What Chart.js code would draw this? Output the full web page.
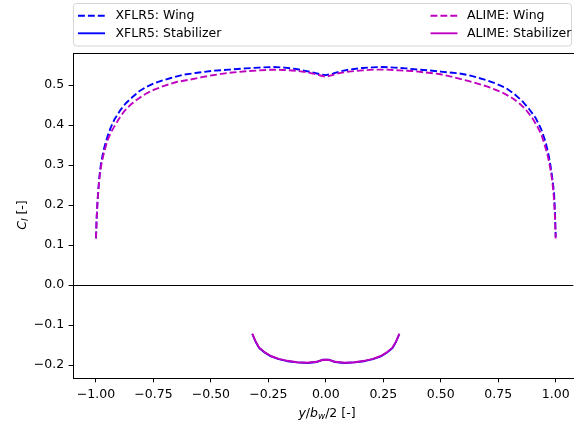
<!DOCTYPE html>
<html>
<head>
<meta charset="utf-8">
<script src="https://cdn.jsdelivr.net/npm/chart.js@4.4.1/dist/chart.umd.min.js"></script>
<style>
  html, body { margin: 0; padding: 0; background: #ffffff; overflow: hidden; }
  canvas { display: block; }
</style>
</head>
<body>
<canvas id="cl" width="574" height="423"></canvas>
<script>
// Spanwise lift coefficient distributions: wing and horizontal stabilizer
const xflrWingX = [-1.000,-0.997,-0.993,-0.986,-0.978,-0.966,-0.950,-0.935,-0.920,-0.895,-0.870,-0.840,-0.812,-0.780,-0.747,-0.710,-0.674,-0.623,-0.560,-0.493,-0.420,-0.348,-0.290,-0.232,-0.180,-0.130,-0.090,-0.058,-0.030,0.000,0.030,0.058,0.100,0.159,0.200,0.246,0.300,0.348,0.400,0.449,0.500,0.551,0.580,0.623,0.660,0.696,0.740,0.783,0.820,0.855,0.885,0.913,0.937,0.957,0.970,0.978,0.986,0.993,0.997,1.000];
const xflrWingY = [0.117,0.170,0.214,0.268,0.305,0.340,0.372,0.395,0.414,0.437,0.455,0.471,0.485,0.496,0.505,0.512,0.518,0.526,0.531,0.536,0.539,0.542,0.544,0.5455,0.544,0.5405,0.536,0.532,0.528,0.525,0.529,0.534,0.539,0.543,0.5445,0.5455,0.544,0.542,0.539,0.537,0.534,0.531,0.5295,0.525,0.519,0.513,0.504,0.493,0.478,0.460,0.440,0.418,0.390,0.356,0.323,0.297,0.265,0.230,0.185,0.120];

const alimeWingX = [-1.000,-0.997,-0.993,-0.986,-0.978,-0.966,-0.950,-0.935,-0.920,-0.900,-0.877,-0.850,-0.819,-0.785,-0.747,-0.700,-0.650,-0.600,-0.540,-0.493,-0.420,-0.348,-0.290,-0.232,-0.180,-0.130,-0.080,-0.040,-0.015,0.000,0.020,0.058,0.100,0.159,0.210,0.261,0.320,0.377,0.430,0.493,0.550,0.594,0.623,0.660,0.700,0.724,0.770,0.811,0.845,0.870,0.897,0.920,0.937,0.949,0.963,0.975,0.985,0.992,0.997,1.000];
const alimeWingY = [0.117,0.168,0.212,0.262,0.298,0.330,0.362,0.382,0.397,0.416,0.435,0.451,0.465,0.478,0.489,0.499,0.508,0.513,0.520,0.525,0.531,0.535,0.537,0.539,0.538,0.536,0.532,0.527,0.523,0.521,0.524,0.530,0.534,0.537,0.539,0.539,0.537,0.5355,0.532,0.528,0.521,0.514,0.510,0.504,0.497,0.492,0.481,0.468,0.453,0.439,0.419,0.397,0.378,0.356,0.330,0.297,0.262,0.220,0.170,0.117];

const xflrStabX = [-0.320,-0.305,-0.290,-0.265,-0.239,-0.205,-0.167,-0.125,-0.080,-0.040,-0.015,0.000,0.015,0.040,0.080,0.125,0.167,0.205,0.239,0.265,0.290,0.305,0.320];
const xflrStabY = [-0.122,-0.142,-0.157,-0.169,-0.178,-0.185,-0.190,-0.193,-0.1945,-0.192,-0.1865,-0.186,-0.1865,-0.192,-0.1945,-0.193,-0.190,-0.185,-0.178,-0.169,-0.157,-0.142,-0.122];

const alimeStabX = [-0.320,-0.305,-0.290,-0.265,-0.239,-0.205,-0.167,-0.125,-0.080,-0.040,-0.015,0.000,0.015,0.040,0.080,0.125,0.167,0.205,0.239,0.265,0.290,0.305,0.320];
const alimeStabY = [-0.121,-0.141,-0.156,-0.168,-0.177,-0.184,-0.189,-0.1925,-0.194,-0.1915,-0.187,-0.1865,-0.187,-0.1915,-0.194,-0.1925,-0.189,-0.184,-0.177,-0.168,-0.156,-0.141,-0.121];

const xTickValues = [-1.00,-0.75,-0.50,-0.25,0.00,0.25,0.50,0.75,1.00];
const yTickValues = [-0.2,-0.1,0.0,0.1,0.2,0.3,0.4,0.5];

const seriesLabels = ['XFLR5: Wing', 'XFLR5: Stabilizer', 'ALIME: Wing', 'ALIME: Stabilizer'];

const BLUE = '#0000ff';
const MAGENTA = '#bf00bf';
const FONT = "'DejaVu Sans', sans-serif";
const FS = 12.5;
const LW = 1.875;
const DASH = [6.9, 3.0];

const zip = (xs, ys) => xs.map((x, i) => ({ x: x, y: ys[i] }));
const fmtMinus = s => s.replace('-', '\u2212');

function lineSet(label, xs, ys, color, dashed, order) {
  return {
    label: label,
    data: zip(xs, ys),
    borderColor: color,
    backgroundColor: color,
    borderWidth: LW,
    borderDash: dashed ? DASH : [],
    borderJoinStyle: 'round',
    borderCapStyle: 'butt',
    pointRadius: 0,
    pointHoverRadius: 0,
    showLine: true,
    fill: false,
    tension: 0,
    order: order
  };
}

// zero reference line and the upper frame edge
const framePlugin = {
  id: 'frame',
  beforeDatasetsDraw(chart) {
    const { ctx, chartArea: a, scales } = chart;
    const y0 = Math.round(scales.y.getPixelForValue(0)) + 0.5;
    ctx.save();
    ctx.strokeStyle = '#000';
    ctx.lineWidth = 1;
    ctx.beginPath();
    ctx.moveTo(a.left, y0);
    ctx.lineTo(a.right, y0);
    ctx.stroke();
    ctx.restore();
  },
  afterDatasetsDraw(chart) {
    const { ctx, chartArea: a } = chart;
    ctx.save();
    ctx.strokeStyle = '#000';
    ctx.lineWidth = 1;
    ctx.beginPath();
    ctx.moveTo(a.left, Math.round(a.top) + 0.5);
    ctx.lineTo(a.right + 2, Math.round(a.top) + 0.5);
    ctx.stroke();
    ctx.restore();
  }
};

// text with italic symbols and subscripts
function richWidth(ctx, segs) {
  let w = 0;
  segs.forEach(s => {
    const size = s.sub ? FS * 0.7 : FS;
    ctx.font = (s.it ? 'italic ' : '') + size + 'px ' + FONT;
    w += ctx.measureText(s.t).width;
  });
  return w;
}
function drawRich(ctx, segs, cx, cy) {
  const total = richWidth(ctx, segs);
  let x = cx - total / 2;
  ctx.textBaseline = 'alphabetic';
  ctx.textAlign = 'left';
  ctx.fillStyle = '#000';
  const base = cy + FS * 0.36;
  segs.forEach(s => {
    const size = s.sub ? FS * 0.7 : FS;
    ctx.font = (s.it ? 'italic ' : '') + size + 'px ' + FONT;
    ctx.fillText(s.t, x, s.sub ? base + FS * 0.22 : base);
    x += ctx.measureText(s.t).width;
  });
}

const titlesPlugin = {
  id: 'axisTitles',
  afterDraw(chart) {
    const { ctx } = chart;
    ctx.save();
    drawRich(ctx, [
      { t: 'y', it: true }, { t: '/' }, { t: 'b', it: true }, { t: 'w', it: true, sub: true },
      { t: '/2' }, { t: ' [-]' }
    ], 327, 412);
    ctx.translate(21, 215);
    ctx.rotate(-Math.PI / 2);
    drawRich(ctx, [{ t: 'C', it: true }, { t: 'l', it: true, sub: true }, { t: ' [-]' }], 0, 0);
    ctx.restore();
  }
};

// two-column legend box above the axes
const legendPlugin = {
  id: 'boxLegend',
  afterDraw(chart) {
    const { ctx } = chart;
    const box = { x: 73.5, y: 3.5, w: 498, h: 42.5, r: 3 };
    ctx.save();
    ctx.beginPath();
    ctx.roundRect(box.x, box.y, box.w, box.h, box.r);
    ctx.fillStyle = 'rgba(255,255,255,0.8)';
    ctx.fill();
    ctx.strokeStyle = '#d6d6d6';
    ctx.lineWidth = 1;
    ctx.stroke();
    const cols = [{ hx: 78, tx: 115.5 }, { hx: 430.5, tx: 467 }];
    const rows = [15.7, 33.3];
    chart.data.datasets.forEach((ds, i) => {
      const c = cols[Math.floor(i / 2)];
      const y = rows[i % 2];
      ctx.beginPath();
      ctx.setLineDash(ds.borderDash || []);
      ctx.lineDashOffset = 0;
      ctx.strokeStyle = ds.borderColor;
      ctx.lineWidth = LW;
      ctx.moveTo(c.hx, y);
      ctx.lineTo(c.hx + 27, y);
      ctx.stroke();
      ctx.setLineDash([]);
      ctx.fillStyle = '#000';
      ctx.font = FS + 'px ' + FONT;
      ctx.textBaseline = 'middle';
      ctx.textAlign = 'left';
      ctx.fillText(ds.label, c.tx, y + 0.5);
    });
    ctx.restore();
  }
};

const tickFont = { family: FONT, size: FS };

new Chart(document.getElementById('cl'), {
  type: 'scatter',
  data: {
    datasets: [
      lineSet(seriesLabels[0], xflrWingX, xflrWingY, BLUE, true, 2),
      lineSet(seriesLabels[1], xflrStabX, xflrStabY, BLUE, false, 2),
      lineSet(seriesLabels[2], alimeWingX, alimeWingY, MAGENTA, true, 1),
      lineSet(seriesLabels[3], alimeStabX, alimeStabY, MAGENTA, false, 1)
    ]
  },
  options: {
    responsive: false,
    devicePixelRatio: 1,
    animation: false,
    events: [],
    layout: { padding: { top: 53, left: 0, right: 0, bottom: 0 } },
    plugins: {
      legend: { display: false },
      tooltip: { enabled: false },
      title: { display: false }
    },
    scales: {
      x: {
        type: 'linear',
        min: -1.1,
        max: 1.077,
        afterFit(scale) { scale.height = 45; },
        afterBuildTicks(scale) { scale.ticks = xTickValues.map(v => ({ value: v })); },
        ticks: {
          font: tickFont,
          color: '#000',
          padding: 4.4,
          maxRotation: 0,
          autoSkip: false,
          callback: v => fmtMinus(Number(v).toFixed(2))
        },
        grid: {
          display: true,
          drawOnChartArea: false,
          drawTicks: true,
          tickLength: 4.4,
          tickColor: '#000',
          tickWidth: 1
        },
        border: { display: true, color: '#000', width: 1 }
      },
      y: {
        type: 'linear',
        min: -0.232,
        max: 0.5805,
        afterFit(scale) { scale.width = 73; },
        afterBuildTicks(scale) { scale.ticks = yTickValues.map(v => ({ value: v })); },
        ticks: {
          font: tickFont,
          color: '#000',
          padding: 4.4,
          autoSkip: false,
          callback: v => fmtMinus(Number(v).toFixed(1))
        },
        grid: {
          display: true,
          drawOnChartArea: false,
          drawTicks: true,
          tickLength: 4.4,
          tickColor: '#000',
          tickWidth: 1
        },
        border: { display: true, color: '#000', width: 1 }
      }
    }
  },
  plugins: [framePlugin, titlesPlugin, legendPlugin]
});
</script>
</body>
</html>
